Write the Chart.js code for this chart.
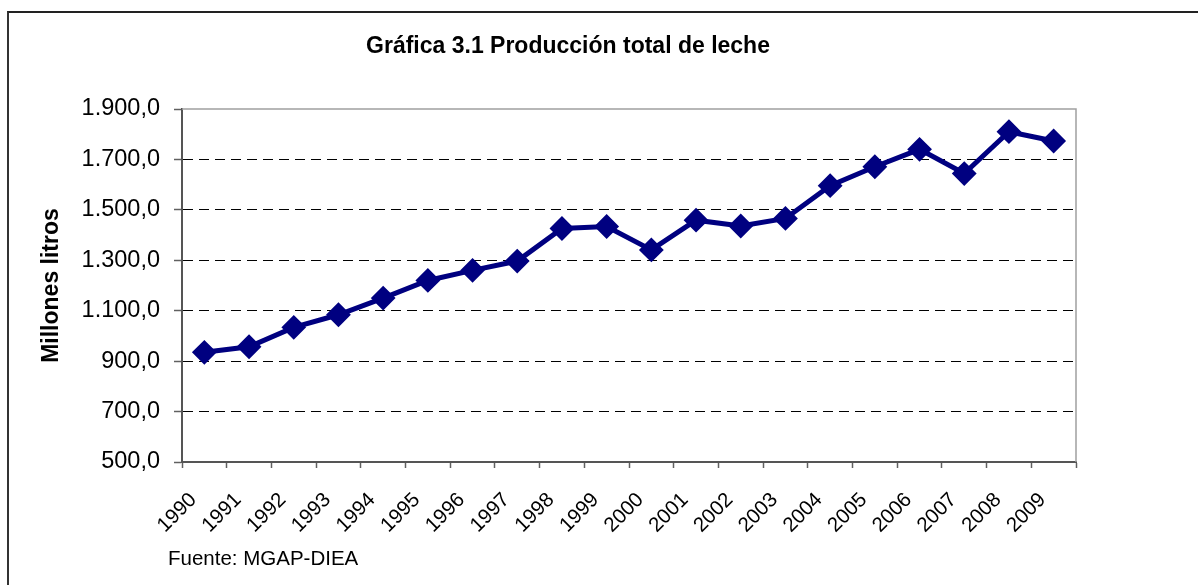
<!DOCTYPE html>
<html>
<head>
<meta charset="utf-8">
<script src="https://cdn.jsdelivr.net/npm/chart.js@4/dist/chart.umd.min.js"></script>
<style>
    html, body { margin: 0; padding: 0; background: #fff; }
    #wrap { position: relative; width: 1198px; height: 585px; overflow: hidden; }
    #frame { position: absolute; left: 7px; top: 11px; width: 1300px; height: 700px;
             border-top: 2px solid #222; border-left: 2px solid #333; }
    #Chart1 { position: absolute; left: 0; top: 0; }
</style>
</head>
<body>
<div id="wrap">
    <div id="frame"></div>
    <canvas id="Chart1" width="1198" height="585"></canvas>
</div>
<script>
const years = ['1990', '1991', '1992', '1993', '1994', '1995', '1996', '1997', '1998', '1999',
               '2000', '2001', '2002', '2003', '2004', '2005', '2006', '2007', '2008', '2009']
const produccion = [935, 957, 1034, 1084, 1150, 1220, 1260, 1297, 1426, 1434,
                    1341, 1459, 1436, 1466, 1596, 1671, 1740, 1644, 1810, 1773]
const titulo = 'Gráfica 3.1 Producción total de leche'
const ejeY = 'Millones litros'
const fuente = 'Fuente: MGAP-DIEA'

const fmt = v => {
    const s = Math.round(v).toString().replace(/\B(?=(\d{3})+(?!\d))/g, '.')
    return s + ',0'
}

// title, footer and the plot frame
const extras = {
    id: 'extras',
    beforeDatasetsDraw(chart) {
        const { ctx, chartArea: a } = chart
        ctx.save()
        ctx.strokeStyle = '#a0a0a0'
        ctx.lineWidth = 1.5
        ctx.beginPath()
        ctx.moveTo(a.left, a.top)
        ctx.lineTo(a.right, a.top)
        ctx.lineTo(a.right, a.bottom)
        ctx.stroke()
        ctx.restore()
    },
    afterDraw(chart) {
        const ctx = chart.ctx
        ctx.save()
        ctx.fillStyle = '#000'
        ctx.textAlign = 'center'
        ctx.textBaseline = 'alphabetic'
        ctx.font = 'bold 23px "Liberation Sans", Arial, sans-serif'
        ctx.fillText(titulo, 568, 53)
        ctx.textAlign = 'left'
        ctx.font = '20.5px "Liberation Sans", Arial, sans-serif'
        ctx.fillText(fuente, 168, 565)
        ctx.restore()
    }
}

const renderchart = () => {
    const data = {
        labels: years,
        datasets: [{
            data: produccion,
            borderColor: '#000080',
            backgroundColor: '#000080',
            borderWidth: 5,
            pointStyle: 'rectRot',
            pointRadius: 11,
            pointBorderWidth: 2,
            pointBackgroundColor: '#000080',
            pointBorderColor: '#000080',
            tension: 0
        }]
    }
    new Chart('Chart1', {
        type: 'line',
        data,
        plugins: [extras],
        options: {
            responsive: false,
            animation: false,
            layout: { padding: { top: 109, left: 38, right: 122, bottom: 0 } },
            plugins: { legend: { display: false }, tooltip: { enabled: false } },
            scales: {
                x: {
                    offset: true,
                    grid: { offset: true, drawOnChartArea: false, tickLength: 6, tickColor: '#606060', tickWidth: 1.5 },
                    border: { color: '#555', width: 2 },
                    ticks: {
                        color: '#000',
                        minRotation: 45, maxRotation: 45,
                        padding: 20,
                        labelOffset: -11,
                        font: { family: '"Liberation Sans", Arial, sans-serif', size: 20.5 }
                    },
                    afterFit: s => { s.height = 123 }
                },
                y: {
                    min: 500, max: 1900,
                    grid: {
                        color: c => (c.tick.value === 500 || c.tick.value === 1900) ? 'rgba(0,0,0,0)' : '#000',
                        lineWidth: 1,
                        tickLength: 8, tickColor: '#606060', tickWidth: 1.5, tickBorderDash: []
                    },
                    border: { color: '#555', width: 2, dash: [10, 6] },
                    ticks: {
                        stepSize: 200,
                        color: '#000',
                        padding: 14,
                        callback: v => fmt(v),
                        font: { family: '"Liberation Sans", Arial, sans-serif', size: 23.5 }
                    },
                    title: {
                        display: true, text: ejeY, color: '#000',
                        padding: 0,
                        font: { family: '"Liberation Sans", Arial, sans-serif', size: 23, weight: 'bold' }
                    },
                    afterFit: s => { s.width = 144 }
                }
            }
        }
    })
}

renderchart()
</script>
</body>
</html>
